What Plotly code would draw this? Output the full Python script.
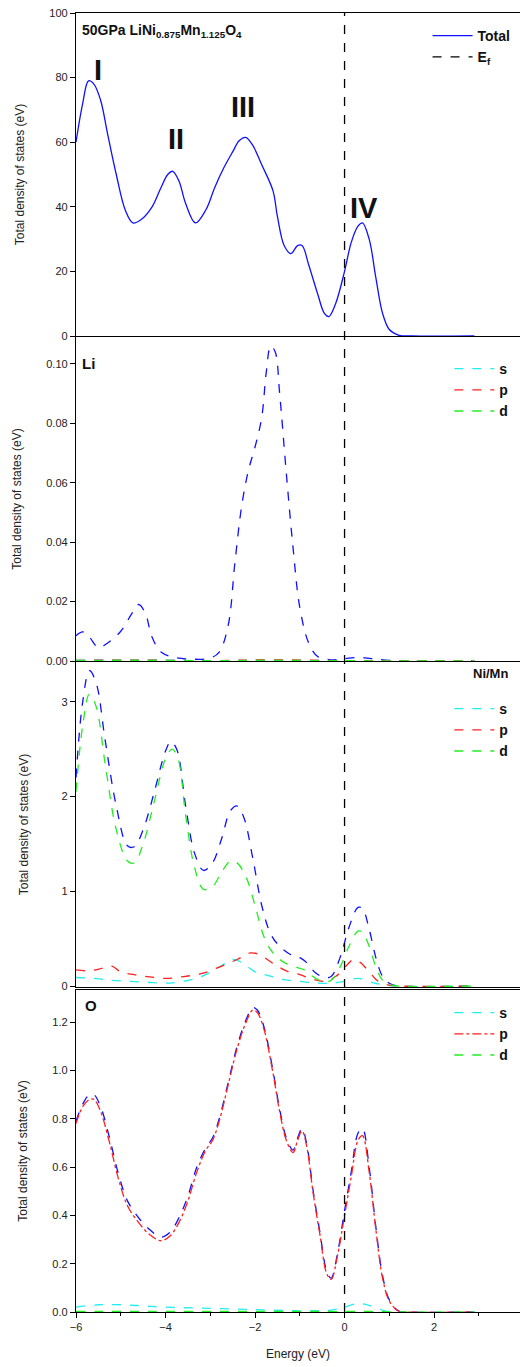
import plotly.graph_objects as go
from plotly.subplots import make_subplots

# ---------------- data ----------------
tot_E = [-6.0, -5.85, -5.72, -5.6, -5.45, -5.3, -5.1, -4.9, -4.73, -4.55, -4.3, -4.1, -3.95, -3.84, -3.7,
         -3.55, -3.33, -3.1, -2.9, -2.7, -2.5, -2.35, -2.21, -2.05, -1.85, -1.6, -1.5, -1.35, -1.2, -1.05,
         -0.95, -0.8, -0.6, -0.45, -0.35, -0.2, 0.0, 0.15, 0.3, 0.4, 0.55, 0.7, 0.85, 1.0, 1.2, 1.5, 2.9]
tot_V = [60, 72, 79, 78, 73, 63, 50, 39, 35, 36, 40, 46, 50, 51, 48,
         41, 35, 39, 46, 52, 57, 60.5, 61.5, 59, 53, 45, 37, 28, 25.5, 28,
         28, 22, 13, 7, 6, 10, 20, 29, 34, 35, 30, 18, 7, 2, 0.3, 0, 0]

li_E = [-6.0, -5.85, -5.7, -5.5, -5.3, -5.0, -4.75, -4.6, -4.45, -4.3, -4.1, -3.8, -3.4, -3.0, -2.8,
        -2.6, -2.45, -2.3, -2.15, -2.0, -1.85, -1.75, -1.65, -1.55, -1.45, -1.3, -1.15, -1.0, -0.8,
        -0.6, -0.3, 0.0, 0.3, 0.6, 1.0, 1.5, 2.9]
li_tot = [0.0085, 0.0098, 0.008, 0.0045, 0.006, 0.010, 0.016, 0.019, 0.016, 0.008, 0.003, 0.0012, 0.0006,
          0.001, 0.003, 0.012, 0.033, 0.052, 0.064, 0.072, 0.082, 0.097, 0.106, 0.104, 0.090, 0.063,
          0.038, 0.018, 0.006, 0.0015, 0.0004, 0.0008, 0.0012, 0.0008, 0.0002, 0, 0]
li_sE = [-6.0, -4.6, -3.0, -1.65, 0.0, 1.5, 2.9]
li_s = [0.0003, 0.0004, 0.0001, 0.0003, 0.0001, 0, 0]
li_p = [0.0002, 0.0003, 0.0001, 0.0004, 0.0001, 0, 0]
li_d = [0.0001, 0.0002, 0.0001, 0.0002, 0.0001, 0, 0]

ni_E = [-6.0, -5.85, -5.7, -5.55, -5.35, -5.1, -4.85, -4.7, -4.5, -4.25, -4.0, -3.88, -3.75, -3.55,
        -3.35, -3.15, -2.95, -2.75, -2.55, -2.4, -2.25, -2.05, -1.85, -1.65, -1.45, -1.2, -1.0, -0.85,
        -0.65, -0.45, -0.3, -0.1, 0.1, 0.3, 0.4, 0.55, 0.7, 0.85, 1.0, 1.2, 2.9]
ni_tot = [2.2, 3.0, 3.33, 3.2, 2.6, 1.9, 1.48, 1.47, 1.65, 2.05, 2.48, 2.58, 2.5, 1.9,
          1.4, 1.22, 1.3, 1.55, 1.85, 1.9, 1.78, 1.35, 0.85, 0.55, 0.42, 0.33, 0.3, 0.25,
          0.14, 0.09, 0.1, 0.3, 0.62, 0.83, 0.82, 0.6, 0.3, 0.1, 0.03, 0, 0]
ni_dE = [-6.0, -5.85, -5.7, -5.55, -5.35, -5.1, -4.85, -4.7, -4.5, -4.25, -4.0, -3.85, -3.72, -3.55,
         -3.35, -3.15, -2.95, -2.75, -2.55, -2.4, -2.2, -2.0, -1.8, -1.6, -1.35, -1.1, -0.9, -0.7,
         -0.5, -0.3, -0.1, 0.1, 0.3, 0.4, 0.55, 0.7, 0.85, 1.0, 1.2, 2.9]
ni_d = [2.05, 2.75, 3.08, 2.95, 2.35, 1.65, 1.32, 1.3, 1.5, 1.95, 2.4, 2.5, 2.4, 1.8,
        1.25, 1.02, 1.05, 1.2, 1.32, 1.3, 1.15, 0.85, 0.52, 0.35, 0.25, 0.2, 0.17, 0.1,
        0.05, 0.06, 0.2, 0.42, 0.58, 0.57, 0.42, 0.2, 0.06, 0.015, 0, 0]
ni_pE = [-6.0, -5.7, -5.4, -5.2, -5.0, -4.7, -4.4, -4.0, -3.6, -3.2, -2.8, -2.4, -2.1, -1.9, -1.6,
         -1.3, -1.0, -0.7, -0.45, -0.2, 0.05, 0.2, 0.35, 0.55, 0.75, 1.0, 1.2, 2.9]
ni_p = [0.17, 0.16, 0.19, 0.21, 0.15, 0.12, 0.1, 0.08, 0.1, 0.13, 0.2, 0.28, 0.35, 0.33, 0.24,
        0.16, 0.12, 0.07, 0.05, 0.1, 0.22, 0.28, 0.25, 0.15, 0.05, 0.01, 0, 0]
ni_sE = [-6.0, -5.6, -5.2, -4.8, -4.4, -4.0, -3.6, -3.2, -2.8, -2.5, -2.3, -2.0, -1.7, -1.4, -1.0,
         -0.6, -0.3, 0.0, 0.3, 0.6, 0.9, 1.2, 2.9]
ni_s = [0.09, 0.08, 0.06, 0.05, 0.04, 0.03, 0.05, 0.1, 0.2, 0.28, 0.25, 0.15, 0.11, 0.07, 0.05,
        0.03, 0.03, 0.05, 0.08, 0.04, 0.01, 0, 0]

o_E = [-6.0, -5.85, -5.7, -5.6, -5.45, -5.25, -5.05, -4.85, -4.6, -4.35, -4.1, -3.9, -3.7, -3.5, -3.3,
       -3.1, -2.95, -2.8, -2.6, -2.4, -2.2, -2.05, -1.95, -1.8, -1.6, -1.45, -1.3, -1.15, -1.05, -0.95,
       -0.85, -0.7, -0.55, -0.4, -0.3, -0.15, 0.0, 0.15, 0.3, 0.4, 0.55, 0.7, 0.85, 1.0, 1.2, 1.4, 2.9]
o_tot = [0.79, 0.86, 0.9, 0.9, 0.85, 0.72, 0.57, 0.46, 0.39, 0.34, 0.31, 0.33, 0.39, 0.48, 0.6,
         0.68, 0.72, 0.8, 0.95, 1.1, 1.21, 1.26, 1.25, 1.18, 1.0, 0.84, 0.72, 0.67, 0.72, 0.76,
         0.7, 0.5, 0.33, 0.17, 0.14, 0.25, 0.42, 0.58, 0.74, 0.76, 0.6, 0.35, 0.15, 0.05, 0.005, 0, 0]
o_p = [0.78, 0.85, 0.88, 0.88, 0.83, 0.7, 0.55, 0.44, 0.37, 0.32, 0.295, 0.315, 0.37, 0.46, 0.58,
       0.67, 0.71, 0.79, 0.94, 1.09, 1.2, 1.25, 1.24, 1.17, 0.99, 0.83, 0.71, 0.66, 0.71, 0.75,
       0.69, 0.49, 0.32, 0.16, 0.135, 0.24, 0.4, 0.56, 0.71, 0.73, 0.58, 0.34, 0.14, 0.045, 0.004, 0, 0]
o_sE = [-6.0, -5.5, -5.0, -4.5, -4.0, -3.0, -2.0, -1.0, -0.3, 0.0, 0.3, 0.6, 0.9, 1.2, 2.9]
o_s = [0.02, 0.03, 0.03, 0.025, 0.02, 0.015, 0.01, 0.005, 0.008, 0.02, 0.035, 0.025, 0.005, 0, 0]
o_d = [0.002, 0.002, 0.002, 0.002, 0.002, 0.002, 0.002, 0.002, 0.002, 0.002, 0.003, 0.002, 0.001, 0, 0]

# ---------------- figure ----------------
W, H = 520, 1367
ML, MR, MT, MB = 76, 0, 13, 55
PH = H - MT - MB
FONT = "Liberation Sans, Arial, sans-serif"

fig = make_subplots(rows=4, cols=1, shared_xaxes=True, vertical_spacing=0.002)

BLUE, CYAN, RED, GREEN = "#1010ff", "#22eeee", "#ff2020", "#22ee22"
LW = 1.3

def sp(**k):
    d = dict(mode="lines", line_shape="spline")
    d.update(k)
    return go.Scatter(**d)

# panel 1
fig.add_trace(sp(x=tot_E, y=tot_V, name="<b>Total</b>", line=dict(color=BLUE, width=LW), legend="legend"), 1, 1)
fig.add_trace(go.Scatter(x=[None], y=[None], mode="lines", name="<b>E<sub>f</sub></b>",
                         line=dict(color="black", width=1.3, dash="dash"), legend="legend"), 1, 1)
# panel 2
fig.add_trace(sp(x=li_E, y=li_tot, showlegend=False, line=dict(color=BLUE, width=LW, dash="dash")), 2, 1)
fig.add_trace(sp(x=li_sE, y=li_s, name="<b>s</b>", line=dict(color=CYAN, width=LW, dash="dash"), legend="legend2"), 2, 1)
fig.add_trace(sp(x=li_sE, y=li_p, name="<b>p</b>", line=dict(color=RED, width=LW, dash="dash"), legend="legend2"), 2, 1)
fig.add_trace(sp(x=li_sE, y=li_d, name="<b>d</b>", line=dict(color=GREEN, width=LW, dash="dash"), legend="legend2"), 2, 1)
# panel 3
fig.add_trace(sp(x=ni_E, y=ni_tot, showlegend=False, line=dict(color=BLUE, width=LW, dash="dash")), 3, 1)
fig.add_trace(sp(x=ni_sE, y=ni_s, name="<b>s</b>", line=dict(color=CYAN, width=LW, dash="dash"), legend="legend3"), 3, 1)
fig.add_trace(sp(x=ni_pE, y=ni_p, name="<b>p</b>", line=dict(color=RED, width=LW, dash="dash"), legend="legend3"), 3, 1)
fig.add_trace(sp(x=ni_dE, y=ni_d, name="<b>d</b>", line=dict(color=GREEN, width=LW, dash="dash"), legend="legend3"), 3, 1)
# panel 4
fig.add_trace(sp(x=o_E, y=o_tot, showlegend=False, line=dict(color=BLUE, width=LW, dash="dash")), 4, 1)
fig.add_trace(sp(x=o_sE, y=o_s, name="<b>s</b>", line=dict(color=CYAN, width=LW, dash="dash"), legend="legend4"), 4, 1)
fig.add_trace(sp(x=o_E, y=o_p, name="<b>p</b>", line=dict(color=RED, width=LW, dash="dashdot"), legend="legend4"), 4, 1)
fig.add_trace(sp(x=o_sE, y=o_d, name="<b>d</b>", line=dict(color=GREEN, width=LW, dash="dash"), legend="legend4"), 4, 1)

def frac(px):
    return (H - MB - px) / PH

domains = [(frac(336), 1.0), (frac(661), frac(337)), (frac(987), frac(662)), (0.0, frac(990))]
yranges = [[0, 100], [0, 0.109], [-0.01, 3.42], [0, 1.333]]
ytick = [dict(tickvals=[0, 20, 40, 60, 80, 100], ticktext=["0", "20", "40", "60", "80", "100"]),
         dict(tickvals=[0, 0.02, 0.04, 0.06, 0.08, 0.10], ticktext=["0.00", "0.02", "0.04", "0.06", "0.08", "0.10"]),
         dict(tickvals=[0, 1, 2, 3], ticktext=["0", "1", "2", "3"]),
         dict(tickvals=[0, 0.2, 0.4, 0.6, 0.8, 1.0, 1.2], ticktext=["0.0", "0.2", "0.4", "0.6", "0.8", "1.0", "1.2"])]
standoffs = [22, 22, 30, 22]

for i in range(4):
    yk = "yaxis" if i == 0 else f"yaxis{i+1}"
    xk = "xaxis" if i == 0 else f"xaxis{i+1}"
    fig.layout[yk].update(domain=list(domains[i]), range=yranges[i], showline=True, linecolor="black",
                          linewidth=1.3, ticks="outside", ticklen=5, tickcolor="black", showgrid=False,
                          zeroline=False, tickfont=dict(family=FONT, size=11, color="#222"),
                          title=dict(text="Total density of states (eV)", standoff=standoffs[i],
                                     font=dict(family=FONT, size=12, color="#222")),
                          **ytick[i])
    fig.layout[xk].update(range=[-6, 3.92], showline=True, linecolor="black", linewidth=1.3, mirror=True,
                          showgrid=False, zeroline=False, ticks="outside" if i == 3 else "",
                          tickvals=[-6, -4, -2, 0, 2], ticklen=5, tickcolor="black",
                          showticklabels=(i == 3),
                          tickfont=dict(family=FONT, size=11, color="#222"))
fig.layout.xaxis4.update(title=dict(text="Energy (eV)", font=dict(family=FONT, size=12, color="#222"), standoff=17),
                         minor=dict(ticks="outside", ticklen=3, tickcolor="black", dtick=1))

# Fermi level line
fig.add_shape(type="line", xref="x", yref="paper", x0=0, x1=0, y0=0, y1=1,
              line=dict(color="black", width=1.3, dash="dash"))

def ann(text, x, y, xref="x", yref="y", size=12, xanchor="left", yanchor="middle"):
    fig.add_annotation(text=text, x=x, y=y, xref=xref, yref=yref, showarrow=False,
                       font=dict(family=FONT, size=size, color="#111"), xanchor=xanchor, yanchor=yanchor)

ann("<b>50GPa LiNi<sub>0.875</sub>Mn<sub>1.125</sub>O<sub>4</sub></b>", -5.92, 94.5, size=14)
ann("<b>I</b>", -5.51, 82.5, size=29, xanchor="center")
ann("<b>II</b>", -3.77, 61, size=29, xanchor="center")
ann("<b>III</b>", -2.27, 71, size=29, xanchor="center")
ann("<b>IV</b>", 0.43, 39.5, size=29, xanchor="center")
ann("<b>Li</b>", -5.9, 0.1, xref="x2", yref="y2", size=15)
ann("<b>Ni/Mn</b>", 3.7, 3.3, xref="x3", yref="y3", size=13, xanchor="right")
ann("<b>O</b>", -5.85, 1.27, xref="x4", yref="y4", size=15)

def leg(ypx, x=1.0, size=13):
    return dict(x=x, xanchor="right", y=frac(ypx), yanchor="top", bgcolor="rgba(0,0,0,0)",
                font=dict(family=FONT, size=size, color="#111"), tracegroupgap=0, itemwidth=40)

fig.update_layout(
    width=W, height=H, margin=dict(l=ML, r=MR, t=MT, b=MB),
    plot_bgcolor="white", paper_bgcolor="white",
    legend=leg(20, x=0.99, size=14), legend2=leg(353, x=0.985, size=14),
    legend3=leg(693, x=0.985, size=14), legend4=leg(997, x=0.985, size=14),
    showlegend=True,
)

fig.write_html("out.html")
